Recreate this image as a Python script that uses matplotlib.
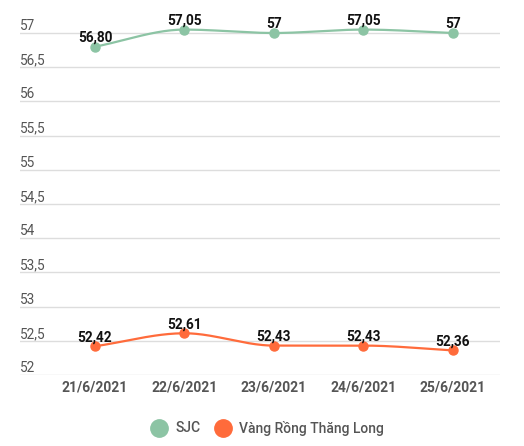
import numpy as np
import matplotlib
matplotlib.use("Agg")
import matplotlib.pyplot as plt
from matplotlib.lines import Line2D

dates = ["21/6/2021", "22/6/2021", "23/6/2021", "24/6/2021", "25/6/2021"]
sjc = [56.80, 57.05, 57.00, 57.05, 57.00]
sjc_labels = ["56,80", "57,05", "57", "57,05", "57"]
vrtl = [52.42, 52.61, 52.43, 52.43, 52.36]
vrtl_labels = ["52,42", "52,61", "52,43", "52,43", "52,36"]
yticks = [52, 52.5, 53, 53.5, 54, 54.5, 55, 55.5, 56, 56.5, 57]
ytick_labels = ["52", "52,5", "53", "53,5", "54", "54,5", "55", "55,5", "56", "56,5", "57"]
series_names = ["SJC", "Vàng Rồng Thăng Long"]
colors = ["#8cc4a4", "#ff6b3b"]

plt.rcParams['font.family'] = ['Roboto', 'DejaVu Sans']


def pchip(x, y, n=40):
    x = np.asarray(x, float)
    y = np.asarray(y, float)
    h = np.diff(x)
    d = np.diff(y) / h
    m = np.zeros_like(y)
    for k in range(1, len(y) - 1):
        if d[k - 1] * d[k] <= 0:
            m[k] = 0
        else:
            w1 = 2 * h[k] + h[k - 1]
            w2 = h[k] + 2 * h[k - 1]
            m[k] = (w1 + w2) / (w1 / d[k - 1] + w2 / d[k])
    m[0] = d[0]
    m[-1] = d[-1]
    xs, ys = [], []
    for k in range(len(x) - 1):
        t = np.linspace(0, 1, n)
        h00 = 2 * t**3 - 3 * t**2 + 1
        h10 = t**3 - 2 * t**2 + t
        h01 = -2 * t**3 + 3 * t**2
        h11 = t**3 - t**2
        xs.append(x[k] + t * h[k])
        ys.append(h00 * y[k] + h10 * h[k] * m[k] + h01 * y[k + 1] + h11 * h[k] * m[k + 1])
    return np.concatenate(xs), np.concatenate(ys)


W, H = 524, 446
PX_PER_UNIT = 68.4
X_STEP = 89.5
fig = plt.figure(figsize=(W / 100, H / 100), dpi=100)
ax = fig.add_axes([20 / W, (H - 375) / H, 480 / W, 355 / H])
ax.set_xlim(-75 / X_STEP, 405 / X_STEP)
ax.set_ylim(52, 52 + 355 / PX_PER_UNIT)

for t in yticks:
    ax.axhline(t, color="#dddddd", lw=1, zorder=0)
for t, lab in zip(yticks, ytick_labels):
    ax.annotate(lab, (0.0, t), xycoords=ax.get_yaxis_transform(), xytext=(0, 3),
                textcoords="offset pixels", ha="left", va="baseline",
                fontsize=9.8, color="#555555")

x = np.arange(len(dates))
for vals, labs, c in [(sjc, sjc_labels, colors[0]), (vrtl, vrtl_labels, colors[1])]:
    xs, ys = pchip(x, vals)
    ax.plot(xs, ys, color=c, lw=1.6, zorder=2)
    ax.plot(x, vals, "o", color=c, ms=6.5, zorder=3)
    for xi, v, lab in zip(x, vals, labs):
        ax.annotate(lab, (xi, v), xytext=(0, 5), textcoords="offset pixels", ha="center",
                    va="baseline", fontsize=9.8, fontweight="bold", color="#111111", zorder=4)

for xi, d in zip(x, dates):
    ax.annotate(d, (xi, 0), xycoords=ax.get_xaxis_transform(), xytext=(0, -13),
                textcoords="offset pixels", ha="center", va="center",
                fontsize=10, fontweight="bold", color="#555555")

for s in ax.spines.values():
    s.set_visible(False)
ax.set_xticks([])
ax.set_yticks([])

handles = [Line2D([], [], marker="o", ls="", color=c, ms=12.5) for c in colors]
fig.legend(handles, series_names, loc="center", bbox_to_anchor=(0.505, (H - 428) / H), ncol=2,
           frameon=False, labelcolor="#555555", handletextpad=0.2, columnspacing=0.6,
           prop={"weight": "medium", "size": 10})

fig.savefig("out.png", dpi=100)
